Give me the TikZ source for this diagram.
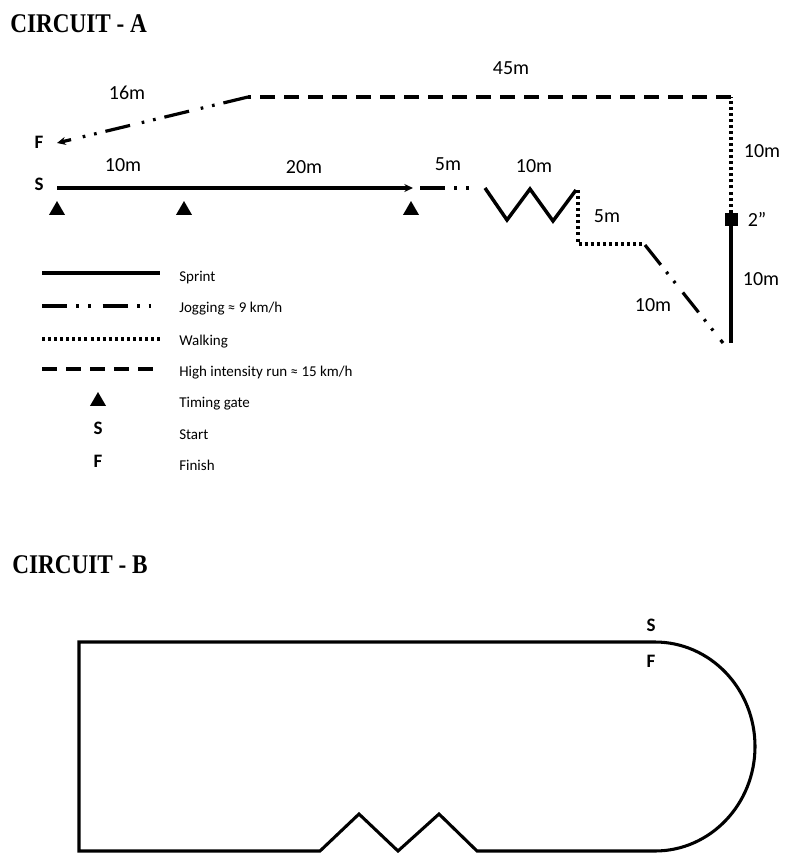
\documentclass[tikz,border=0pt]{standalone}
\usepackage{fontspec}
\setmainfont{Carlito}
\newfontfamily\headfont{Liberation Serif}
\usetikzlibrary{arrows.meta,shapes.geometric}

\begin{document}
\begin{tikzpicture}[x=0.75pt, y=-0.75pt,
    sprint/.style={line width=2.6pt},
    jog/.style={line width=2.4pt, dash pattern=on 19pt off 6.75pt on 2pt off 6.75pt on 2pt off 9pt},
    walk/.style={line width=2.4pt, dash pattern=on 2.25pt off 2.3pt},
    hirun/.style={line width=2.4pt, dash pattern=on 11.25pt off 6.75pt},
    track/.style={line width=2.3pt, line join=miter},
    gate/.style={regular polygon, regular polygon sides=3, fill=black, inner sep=0pt, minimum size=13.9pt},
    dist/.style={inner sep=0pt, font=\fontsize{15}{18}\selectfont},
    letter/.style={inner sep=0pt, font=\fontsize{14.25}{17}\selectfont\bfseries},
    keytext/.style={anchor=base west, inner sep=0pt, font=\fontsize{11.25}{13.5}\selectfont},
    heading/.style={anchor=base west, inner sep=0pt, font=\headfont\bfseries\fontsize{20.25}{24}\selectfont}
  ]
  \useasboundingbox (0,0) rectangle (793,853);

  % Circuit A
  \node[heading] (ha) at (10,32) {\scalebox{0.86}[1]{CIRCUIT - A}};
  \node[letter] (S) at (39,184) {S};
  \node[letter] (F) at (39,142) {F};

  \coordinate (p0) at (57,188);
  \coordinate (p1) at (413,188);
  \coordinate (p2) at (420,188);
  \coordinate (p3) at (472,188);
  \coordinate (z0) at (485,188);
  \coordinate (z1) at (507,220);
  \coordinate (z2) at (530,189);
  \coordinate (z3) at (553,221);
  \coordinate (z4) at (576,190);
  \coordinate (w0) at (578,190);
  \coordinate (w1) at (578,244);
  \coordinate (w2) at (645,244);
  \coordinate (j0) at (645,245);
  \coordinate (j1) at (723,343);
  \coordinate (v0) at (731,343);
  \node[fill, minimum size=9.75pt, inner sep=0pt] (pause) at (731,219.5) {};
  \coordinate (c0) at (731,97);
  \coordinate (c1) at (248,97);
  \coordinate (fin) at (57,143);

  \draw[sprint, -{Stealth[length=6.5pt, width=6pt]}] (p0) -- (p1);
  \draw[jog] (p2) -- (p3);
  \draw[sprint, line join=miter] (z0) -- (z1) -- (z2) -- (z3) -- (z4);
  \draw[walk] (w0) -- (w1) -- (w2);
  \draw[jog] (j0) -- (j1);
  \draw[sprint] (v0) -- (pause.south);
  \draw[walk] (pause.north) -- (c0);
  \draw[hirun] (c0) -- (c1);
  \draw[jog, -{Stealth[length=6.5pt, width=6pt]}] (c1) -- (fin);

  \node[gate] (g1) at (57,210.3) {};
  \node[gate] (g2) at (184,210.3) {};
  \node[gate] (g3) at (411,210.3) {};

  \node[dist] (d16) at (127,93) {16m};
  \node[dist] (d10a) at (123,165) {10m};
  \node[dist] (d20) at (304,167) {20m};
  \node[dist] (d5a) at (448,164) {5m};
  \node[dist] (d10b) at (534,166) {10m};
  \node[dist] (d45) at (511,68) {45m};
  \node[dist] (d10c) at (762,151) {10m};
  \node[dist] (d5b) at (607,216) {5m};
  \node[dist] (t2) at (757,219) {2”};
  \node[dist] (d10d) at (761,279) {10m};
  \node[dist] (d10e) at (653,305) {10m};

  % Legend
  \coordinate (ks0) at (42,273);
  \coordinate (ks1) at (160,273);
  \coordinate (kj0) at (42,306);
  \coordinate (kj1) at (160,306);
  \coordinate (kw0) at (42,339);
  \coordinate (kw1) at (160,339);
  \coordinate (kh0) at (42,369);
  \coordinate (kh1) at (160,369);
  \draw[sprint] (ks0) -- (ks1);
  \draw[jog] (kj0) -- (kj1);
  \draw[walk] (kw0) -- (kw1);
  \draw[hirun] (kh0) -- (kh1);
  \node[gate] (kg) at (98,401.3) {};
  \node[letter] (kS) at (98,428) {S};
  \node[letter] (kF) at (98,461) {F};

  \node[keytext] (ksprint) at (179,281) {Sprint};
  \node[keytext] (kjog) at (179,312) {Jogging ≈ 9 km/h};
  \node[keytext] (kwalk) at (179,345) {Walking};
  \node[keytext] (khirun) at (179,376) {High intensity run ≈ 15 km/h};
  \node[keytext] (kgate) at (179,407) {Timing gate};
  \node[keytext] (kstart) at (179,439) {Start};
  \node[keytext] (kfinish) at (179,470) {Finish};

  % Circuit B
  \node[heading] (hb) at (12,573) {\scalebox{0.86}[1]{CIRCUIT - B}};
  \node[letter] (bS) at (651,625) {S};
  \node[letter] (bF) at (651,661) {F};

  \coordinate (b0) at (79,642);
  \coordinate (b1) at (655,642);
  \coordinate (b3) at (477,851);
  \coordinate (b4) at (439,814);
  \coordinate (b5) at (398,851);
  \coordinate (b6) at (359,814);
  \coordinate (b7) at (320,851);
  \coordinate (b8) at (79,851);
  \draw[track] (b0) -- (b1) arc[start angle=-90, end angle=90, x radius=100, y radius=104.5]
    -- (b3) -- (b4) -- (b5) -- (b6) -- (b7) -- (b8) -- cycle;
\end{tikzpicture}
\end{document}
